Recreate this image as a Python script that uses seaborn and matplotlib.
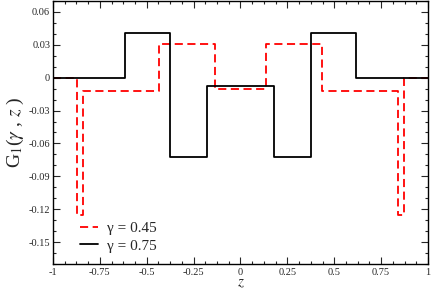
import numpy as np
import pandas as pd
import matplotlib
matplotlib.use("Agg")
import matplotlib.pyplot as plt
import seaborn as sns
from matplotlib.ticker import MultipleLocator, AutoMinorLocator

# Data: step breakpoints (z) and level values of G1 on each interval
z_045 = [-1.0, -0.870, -0.842, -0.433, -0.136, 0.136, 0.435, 0.842, 0.870, 1.0]
g_045 = [0.0, -0.125, -0.012, 0.031, -0.010, 0.031, -0.012, -0.125, 0.0]

z_075 = [-1.0, -0.616, -0.376, -0.180, 0.180, 0.376, 0.616, 1.0]
g_075 = [0.0, 0.041, -0.072, -0.008, -0.072, 0.041, 0.0]

labels = ["\u03b3 = 0.45", "\u03b3 = 0.75"]


def steps_frame(z, g, label):
    # repeat last level so steps-post reaches the final breakpoint
    return pd.DataFrame({"z": z, "G": list(g) + [g[-1]], "serie": label})


df = pd.concat([steps_frame(z_045, g_045, labels[0]),
                steps_frame(z_075, g_075, labels[1])], ignore_index=True)

sns.set_theme(style="ticks")
plt.rcParams["font.family"] = ["Liberation Serif", "DejaVu Serif"]
plt.rcParams["mathtext.fontset"] = "stix"

fig = plt.figure(figsize=(4.32, 2.91), dpi=100)
ax = fig.add_axes([0.1227, 0.0928, 0.868, 0.9038])

sns.lineplot(data=df, x="z", y="G", hue="serie", style="serie",
             palette={labels[0]: "#ff0000", labels[1]: "#000000"},
             dashes={labels[0]: (4.5, 2.5), labels[1]: ""},
             drawstyle="steps-post", estimator=None, sort=False,
             linewidth=1.3, ax=ax)

ax.set_xlim(-1, 1)
ax.set_ylim(-0.17, 0.07)
ax.xaxis.set_major_locator(MultipleLocator(0.25))
ax.xaxis.set_minor_locator(AutoMinorLocator(4))
ax.yaxis.set_major_locator(MultipleLocator(0.03))
ax.yaxis.set_minor_locator(AutoMinorLocator(3))

ax.set_xticks([-1, -0.75, -0.5, -0.25, 0, 0.25, 0.5, 0.75, 1])
ax.set_xticklabels(["-1", "-0.75", "-0.5", "-0.25", "0", "0.25", "0.5", "0.75", "1"])
ax.set_yticks([-0.15, -0.12, -0.09, -0.06, -0.03, 0, 0.03, 0.06])
ax.set_yticklabels(["-0.15", "-0.12", "-0.09", "-0.06", "-0.03", "0", "0.03", "0.06"])

ax.tick_params(which="both", direction="in", top=True, right=True,
               labelsize=7.5, width=0.8)
ax.tick_params(axis="y", pad=2)
ax.tick_params(axis="x", pad=3)
ax.tick_params(which="major", length=5)
ax.tick_params(which="minor", length=2.5)
for s in ax.spines.values():
    s.set_linewidth(1.0)
    s.set_color("black")

ax.set_xlabel("$z$", fontsize=11, labelpad=0)
ax.set_ylabel("G$_1$($\\gamma$ , $z$ )", fontsize=14, labelpad=2)

ax.legend(loc="lower left", bbox_to_anchor=(0.055, 0.02), frameon=False,
          fontsize=11, handlelength=1.2, handletextpad=0.6,
          labelspacing=0.25, borderaxespad=0)

fig.savefig("out.png", dpi=100)
